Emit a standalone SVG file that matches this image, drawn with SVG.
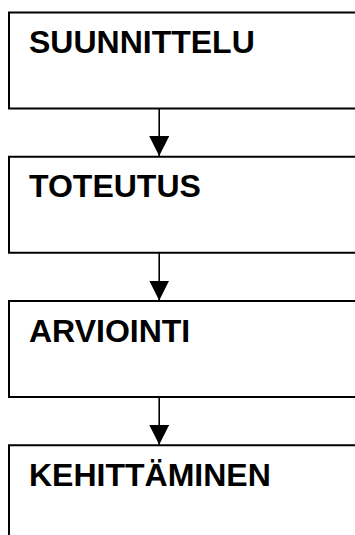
<svg xmlns="http://www.w3.org/2000/svg" width="355" height="535" viewBox="0 0 355 535">
  <style>
    .box { fill: #ffffff; stroke: #000000; stroke-width: 2; }
    .lbl { font-family: "Liberation Sans", Arial, sans-serif; font-weight: bold; font-size: 32px; fill: #000000; }
    .conn { stroke: #000000; stroke-width: 1.6; fill: none; }
  </style>
  <defs>
    <marker id="arrow" markerUnits="userSpaceOnUse" markerWidth="22" markerHeight="22" refX="20" refY="10" orient="auto">
      <path d="M0,0 L20,10 L0,20 Z" fill="#000000"/>
    </marker>
  </defs>
  <rect width="355" height="535" fill="#ffffff"/>
  <g id="connectors">
    <line class="conn" x1="159.2" y1="108.5" x2="159.2" y2="156" marker-end="url(#arrow)"/>
    <line class="conn" x1="159.2" y1="252.75" x2="159.2" y2="300.5" marker-end="url(#arrow)"/>
    <line class="conn" x1="159.2" y1="397" x2="159.2" y2="444.75" marker-end="url(#arrow)"/>
  </g>
  <g id="node-suunnittelu">
    <rect class="box" x="9" y="12.5" width="360" height="96"/>
    <text class="lbl" x="29" y="53">SUUNNITTELU</text>
  </g>
  <g id="node-toteutus">
    <rect class="box" x="9" y="156.75" width="360" height="96"/>
    <text class="lbl" x="29" y="197">TOTEUTUS</text>
  </g>
  <g id="node-arviointi">
    <rect class="box" x="9" y="301" width="360" height="96"/>
    <text class="lbl" x="29" y="341.5">ARVIOINTI</text>
  </g>
  <g id="node-kehittaminen">
    <rect class="box" x="9" y="445.25" width="360" height="110"/>
    <text class="lbl" x="29" y="485.75">KEHITTÄMINEN</text>
  </g>
</svg>
